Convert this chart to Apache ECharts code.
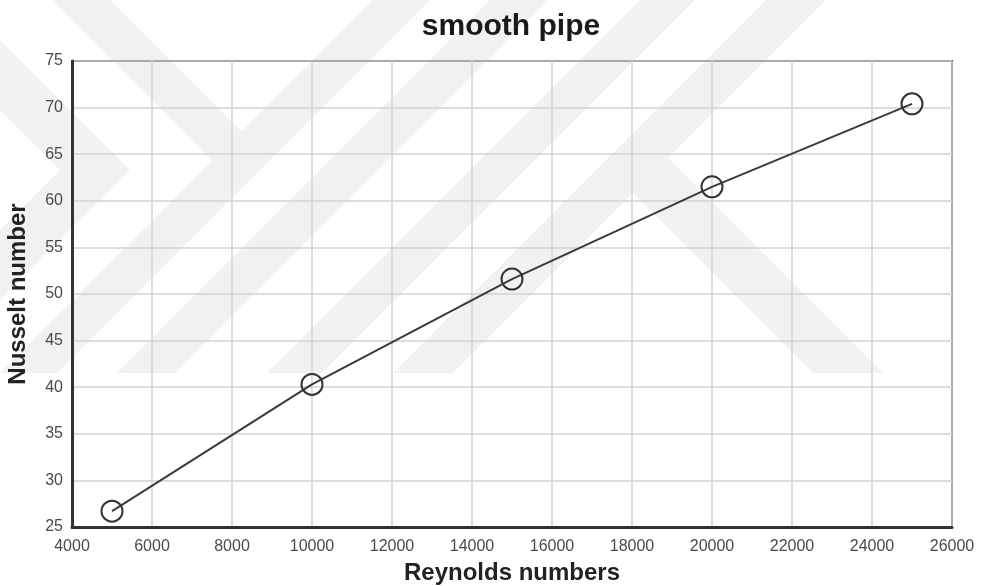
<!DOCTYPE html>
<html>
<head>
<meta charset="utf-8">
<title>smooth pipe</title>
<script src="https://cdn.jsdelivr.net/npm/echarts@6/dist/echarts.min.js"></script>
<style>
  html, body { margin: 0; padding: 0; background: #ffffff; }
  #chart { width: 982px; height: 586px; }
</style>
</head>
<body>
<div id="chart"></div>
<script>
// Measured points: Reynolds number vs Nusselt number for the smooth pipe
const reynolds = [5000, 10000, 15000, 20000, 25000];
const nusselt = [26.7, 40.3, 51.6, 61.5, 70.4];

// Axis ranges and tick steps
const xRange = [4000, 26000];
const xStep = 2000;
const yRange = [25, 75];
const yStep = 5;

const FONT = '"Liberation Sans", Arial, Helvetica, sans-serif';

// Faint diagonal background bands (page watermark), in pixels
const watermarkBands = [
  [[52, 0], [110, 0], [241.5, 131.5], [241, 189]],
  [[373, 0], [430, 0], [57, 373], [0, 373]],
  [[0, 40], [130, 170], [0, 300], [0, 230], [60, 170], [0, 110]],
  [[490, 0], [548, 0], [175, 373], [117, 373]],
  [[640, 0], [695, 0], [322, 373], [267, 373]],
  [[766, 0], [826, 0], [453, 373], [393, 373]],
  [[668, 158], [883, 373], [813, 373], [608, 168]]
];

const chart = echarts.init(document.getElementById('chart'), null, { renderer: 'canvas' });

const points = reynolds.map((r, i) => [r, nusselt[i]]);

chart.setOption({
  backgroundColor: '#ffffff',
  animation: false,
  graphic: watermarkBands.map(pts => ({
    type: 'polygon',
    z: -100,
    silent: true,
    shape: { points: pts },
    style: { fill: '#f1f1f1' }
  })).concat([{
    type: 'text',
    z: 10,
    silent: true,
    x: 511,
    y: 27,
    style: {
      text: 'smooth pipe',
      fontFamily: FONT, fontSize: 30, fontWeight: 'bold', fill: '#1a1a1a',
      align: 'center', verticalAlign: 'middle'
    }
  }]),
  grid: {
    left: 72, right: 30, top: 61, bottom: 59,
    containLabel: false,
    outerBoundsMode: 'none',
    show: true,
    borderColor: '#3a3a3a',
    borderWidth: 2,
    backgroundColor: 'transparent'
  },
  xAxis: {
    type: 'value',
    min: xRange[0], max: xRange[1], interval: xStep,
    name: 'Reynolds numbers',
    nameLocation: 'middle',
    nameGap: 34,
    nameTextStyle: { fontFamily: FONT, fontSize: 24, fontWeight: 'bold', color: '#222' },
    axisLine: { show: true, onZero: false, lineStyle: { color: '#333', width: 3 } },
    axisTick: { show: false },
    axisLabel: {
      fontFamily: FONT, fontSize: 16, color: '#4a4a4a', margin: 12,
      formatter: v => String(v)
    },
    splitLine: { show: true, lineStyle: { color: '#d2d2d2', width: 1.5 } }
  },
  yAxis: {
    type: 'value',
    min: yRange[0], max: yRange[1], interval: yStep,
    name: 'Nusselt number',
    nameLocation: 'middle',
    nameGap: 42,
    nameTextStyle: { fontFamily: FONT, fontSize: 24, fontWeight: 'bold', color: '#222' },
    axisLine: { show: true, onZero: false, lineStyle: { color: '#333', width: 3 } },
    axisTick: { show: false },
    axisLabel: { fontFamily: FONT, fontSize: 16, color: '#4a4a4a', margin: 9 },
    splitLine: { show: true, lineStyle: { color: '#d2d2d2', width: 1.5 } }
  },
  series: [{
    type: 'line',
    data: points,
    symbol: 'circle',
    symbolSize: 21,
    showAllSymbol: true,
    lineStyle: { color: '#3a3a3a', width: 2 },
    itemStyle: { color: 'rgba(0,0,0,0)', borderColor: '#333', borderWidth: 2 },
    z: 5
  }]
});
</script>
</body>
</html>
